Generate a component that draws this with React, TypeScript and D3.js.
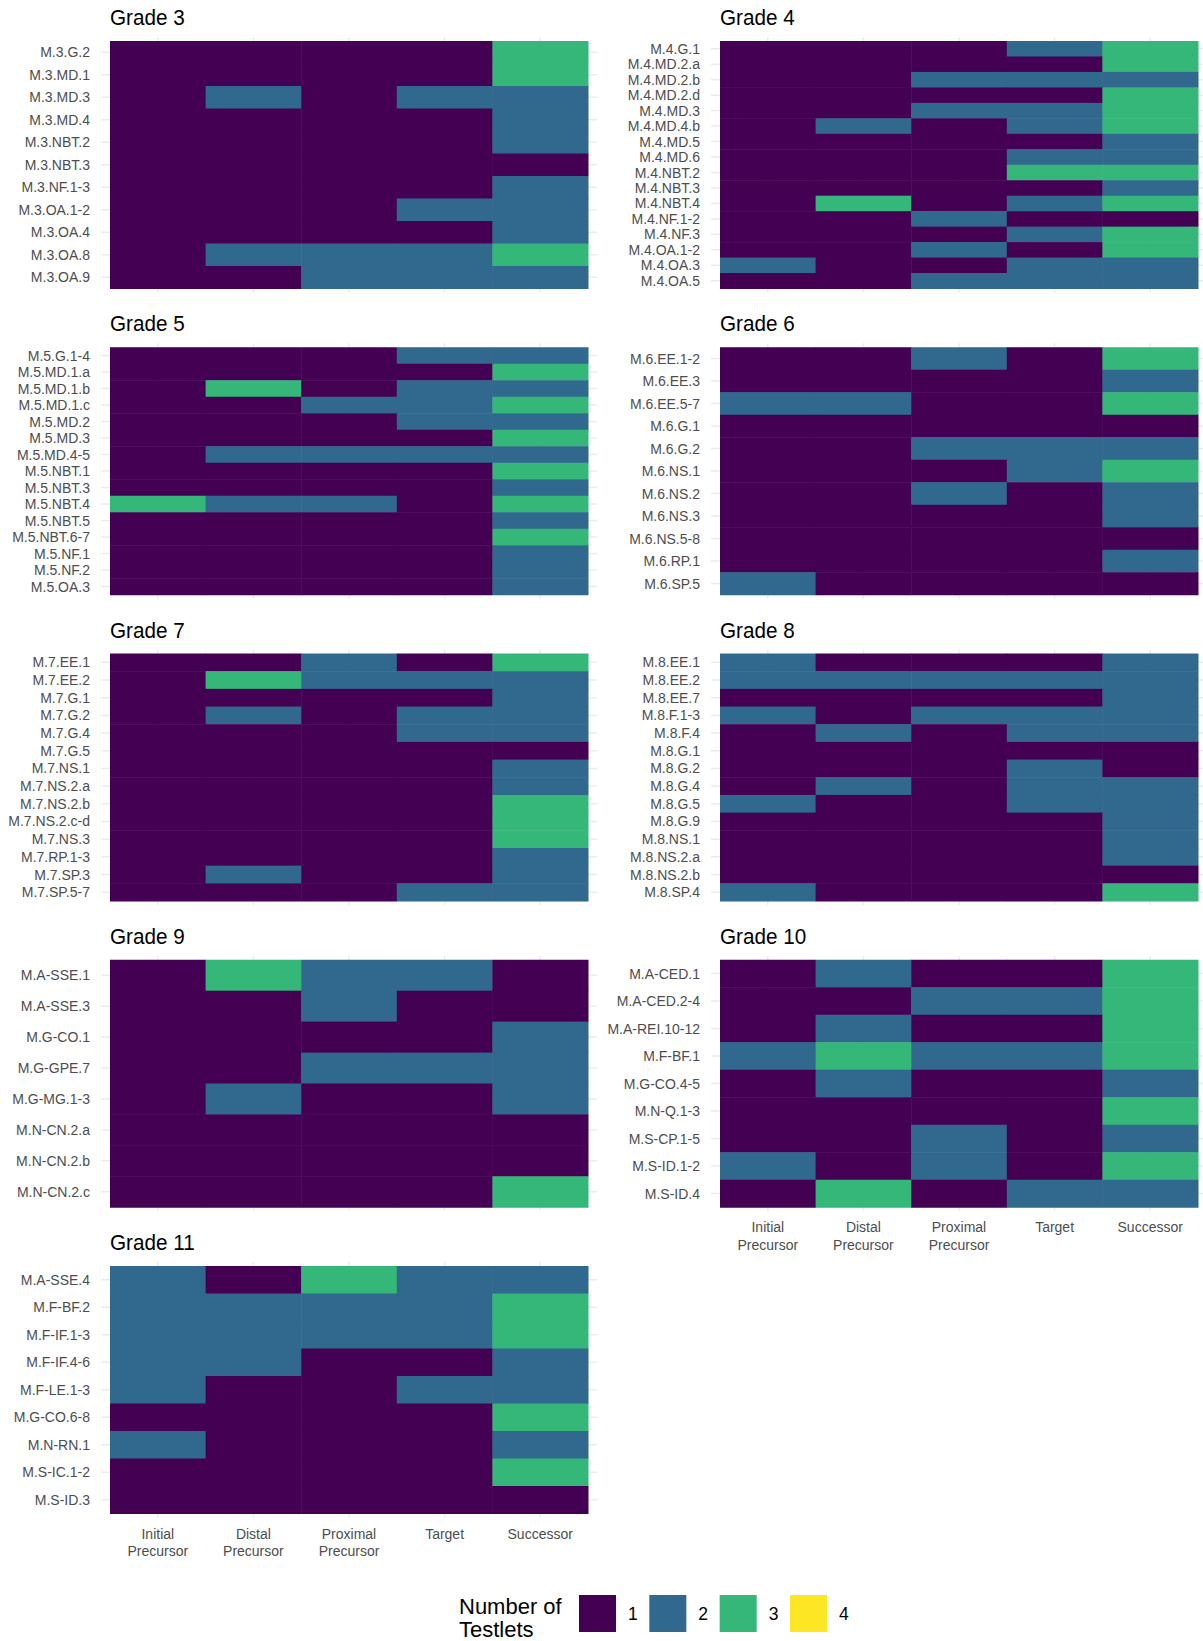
import React from "react";
import * as d3 from "d3";

const columns = ["Initial Precursor", "Distal Precursor", "Proximal Precursor", "Target", "Successor"];
const columnLines = [["Initial", "Precursor"], ["Distal", "Precursor"], ["Proximal", "Precursor"], ["Target"], ["Successor"]];
const legendLevels = [1, 2, 3, 4];
const legendColors = ["#440154", "#31688E", "#35B779", "#FDE725"];

const grade3Labels = ["M.3.G.2", "M.3.MD.1", "M.3.MD.3", "M.3.MD.4", "M.3.NBT.2", "M.3.NBT.3", "M.3.NF.1-3", "M.3.OA.1-2", "M.3.OA.4", "M.3.OA.8", "M.3.OA.9"];
const grade3Values = [
  [1, 1, 1, 1, 3], [1, 1, 1, 1, 3], [1, 2, 1, 2, 2], [1, 1, 1, 1, 2], [1, 1, 1, 1, 2], [1, 1, 1, 1, 1],
  [1, 1, 1, 1, 2], [1, 1, 1, 2, 2], [1, 1, 1, 1, 2], [1, 2, 2, 2, 3], [1, 1, 2, 2, 2],
];

const grade4Labels = ["M.4.G.1", "M.4.MD.2.a", "M.4.MD.2.b", "M.4.MD.2.d", "M.4.MD.3", "M.4.MD.4.b", "M.4.MD.5", "M.4.MD.6", "M.4.NBT.2", "M.4.NBT.3", "M.4.NBT.4", "M.4.NF.1-2", "M.4.NF.3", "M.4.OA.1-2", "M.4.OA.3", "M.4.OA.5"];
const grade4Values = [
  [1, 1, 1, 2, 3], [1, 1, 1, 1, 3], [1, 1, 2, 2, 2], [1, 1, 1, 1, 3], [1, 1, 2, 2, 3], [1, 2, 1, 2, 3],
  [1, 1, 1, 1, 2], [1, 1, 1, 2, 2], [1, 1, 1, 3, 3], [1, 1, 1, 1, 2], [1, 3, 1, 2, 3], [1, 1, 2, 1, 1],
  [1, 1, 1, 2, 3], [1, 1, 2, 1, 3], [2, 1, 1, 2, 2], [1, 1, 2, 2, 2],
];

const grade5Labels = ["M.5.G.1-4", "M.5.MD.1.a", "M.5.MD.1.b", "M.5.MD.1.c", "M.5.MD.2", "M.5.MD.3", "M.5.MD.4-5", "M.5.NBT.1", "M.5.NBT.3", "M.5.NBT.4", "M.5.NBT.5", "M.5.NBT.6-7", "M.5.NF.1", "M.5.NF.2", "M.5.OA.3"];
const grade5Values = [
  [1, 1, 1, 2, 2], [1, 1, 1, 1, 3], [1, 3, 1, 2, 2], [1, 1, 2, 2, 3], [1, 1, 1, 2, 2], [1, 1, 1, 1, 3],
  [1, 2, 2, 2, 2], [1, 1, 1, 1, 3], [1, 1, 1, 1, 2], [3, 2, 2, 1, 3], [1, 1, 1, 1, 2], [1, 1, 1, 1, 3],
  [1, 1, 1, 1, 2], [1, 1, 1, 1, 2], [1, 1, 1, 1, 2],
];

const grade6Labels = ["M.6.EE.1-2", "M.6.EE.3", "M.6.EE.5-7", "M.6.G.1", "M.6.G.2", "M.6.NS.1", "M.6.NS.2", "M.6.NS.3", "M.6.NS.5-8", "M.6.RP.1", "M.6.SP.5"];
const grade6Values = [
  [1, 1, 2, 1, 3], [1, 1, 1, 1, 2], [2, 2, 1, 1, 3], [1, 1, 1, 1, 1], [1, 1, 2, 2, 2], [1, 1, 1, 2, 3],
  [1, 1, 2, 1, 2], [1, 1, 1, 1, 2], [1, 1, 1, 1, 1], [1, 1, 1, 1, 2], [2, 1, 1, 1, 1],
];

const grade7Labels = ["M.7.EE.1", "M.7.EE.2", "M.7.G.1", "M.7.G.2", "M.7.G.4", "M.7.G.5", "M.7.NS.1", "M.7.NS.2.a", "M.7.NS.2.b", "M.7.NS.2.c-d", "M.7.NS.3", "M.7.RP.1-3", "M.7.SP.3", "M.7.SP.5-7"];
const grade7Values = [
  [1, 1, 2, 1, 3], [1, 3, 2, 2, 2], [1, 1, 1, 1, 2], [1, 2, 1, 2, 2], [1, 1, 1, 2, 2], [1, 1, 1, 1, 1],
  [1, 1, 1, 1, 2], [1, 1, 1, 1, 2], [1, 1, 1, 1, 3], [1, 1, 1, 1, 3], [1, 1, 1, 1, 3], [1, 1, 1, 1, 2],
  [1, 2, 1, 1, 2], [1, 1, 1, 2, 2],
];

const grade8Labels = ["M.8.EE.1", "M.8.EE.2", "M.8.EE.7", "M.8.F.1-3", "M.8.F.4", "M.8.G.1", "M.8.G.2", "M.8.G.4", "M.8.G.5", "M.8.G.9", "M.8.NS.1", "M.8.NS.2.a", "M.8.NS.2.b", "M.8.SP.4"];
const grade8Values = [
  [2, 1, 1, 1, 2], [2, 2, 2, 2, 2], [1, 1, 1, 1, 2], [2, 1, 2, 2, 2], [1, 2, 1, 2, 2], [1, 1, 1, 1, 1],
  [1, 1, 1, 2, 1], [1, 2, 1, 2, 2], [2, 1, 1, 2, 2], [1, 1, 1, 1, 2], [1, 1, 1, 1, 2], [1, 1, 1, 1, 2],
  [1, 1, 1, 1, 1], [2, 1, 1, 1, 3],
];

const grade9Labels = ["M.A-SSE.1", "M.A-SSE.3", "M.G-CO.1", "M.G-GPE.7", "M.G-MG.1-3", "M.N-CN.2.a", "M.N-CN.2.b", "M.N-CN.2.c"];
const grade9Values = [
  [1, 3, 2, 2, 1], [1, 1, 2, 1, 1], [1, 1, 1, 1, 2], [1, 1, 2, 2, 2], [1, 2, 1, 1, 2], [1, 1, 1, 1, 1],
  [1, 1, 1, 1, 1], [1, 1, 1, 1, 3],
];

const grade10Labels = ["M.A-CED.1", "M.A-CED.2-4", "M.A-REI.10-12", "M.F-BF.1", "M.G-CO.4-5", "M.N-Q.1-3", "M.S-CP.1-5", "M.S-ID.1-2", "M.S-ID.4"];
const grade10Values = [
  [1, 2, 1, 1, 3], [1, 1, 2, 2, 3], [1, 2, 1, 1, 3], [2, 3, 2, 2, 3], [1, 2, 1, 1, 2], [1, 1, 1, 1, 3],
  [1, 1, 2, 1, 2], [2, 1, 2, 1, 3], [1, 3, 1, 2, 2],
];

const grade11Labels = ["M.A-SSE.4", "M.F-BF.2", "M.F-IF.1-3", "M.F-IF.4-6", "M.F-LE.1-3", "M.G-CO.6-8", "M.N-RN.1", "M.S-IC.1-2", "M.S-ID.3"];
const grade11Values = [
  [2, 1, 3, 2, 2], [2, 2, 2, 2, 3], [2, 2, 2, 2, 3], [2, 2, 1, 1, 2], [2, 1, 1, 2, 2], [1, 1, 1, 1, 3],
  [2, 1, 1, 1, 2], [1, 1, 1, 1, 3], [1, 1, 1, 1, 1],
];

const panels = [
  { title: "Grade 3", labels: grade3Labels, values: grade3Values, xAxis: false },
  { title: "Grade 4", labels: grade4Labels, values: grade4Values, xAxis: false },
  { title: "Grade 5", labels: grade5Labels, values: grade5Values, xAxis: false },
  { title: "Grade 6", labels: grade6Labels, values: grade6Values, xAxis: false },
  { title: "Grade 7", labels: grade7Labels, values: grade7Values, xAxis: false },
  { title: "Grade 8", labels: grade8Labels, values: grade8Values, xAxis: false },
  { title: "Grade 9", labels: grade9Labels, values: grade9Values, xAxis: false },
  { title: "Grade 10", labels: grade10Labels, values: grade10Values, xAxis: true },
  { title: "Grade 11", labels: grade11Labels, values: grade11Values, xAxis: true },
];

const FONT = "'Liberation Sans', Arial, Helvetica, sans-serif";
const W = 1203;
const H = 1641;
const colLeft = [110, 720];
const tileW = 478;
const rowTop0 = 41;
const rowPitch = 306.25;
const tileH = 247.5;

const color = d3.scaleOrdinal<number, string>().domain(legendLevels).range(legendColors);

function Panel({ p, idx }: { p: typeof panels[number]; idx: number }) {
  const left = colLeft[idx % 2];
  const top = rowTop0 + Math.floor(idx / 2) * rowPitch;
  const x = d3.scaleBand<string>().domain(columns).range([left, left + tileW]).padding(0);
  const y = d3.scaleBand<string>().domain(p.labels).range([top, top + tileH]).padding(0);
  const bottom = top + tileH;
  return (
    <g>
      <text transform={`translate(${left},${top - 16}) scale(0.94,1)`} fontSize={22} fill="#000" fontFamily={FONT}>{p.title}</text>
      {p.labels.map((l) => (
        <line key={"h" + l} x1={left - 9} x2={left + tileW + 9} y1={y(l)! + y.bandwidth() / 2} y2={y(l)! + y.bandwidth() / 2} stroke="#EBEBEB" strokeWidth={1.5} />
      ))}
      {columns.map((c) => (
        <line key={"v" + c} x1={x(c)! + x.bandwidth() / 2} x2={x(c)! + x.bandwidth() / 2} y1={top - 4} y2={bottom + 4} stroke="#EBEBEB" strokeWidth={1.5} />
      ))}
      {p.values.map((row, ri) =>
        row.map((v, ci) => (
          <rect key={ri + "-" + ci} x={x(columns[ci])!} y={y(p.labels[ri])!} width={x.bandwidth() + 0.5} height={y.bandwidth() + 0.5} fill={color(v)} />
        ))
      )}
      {p.labels.map((l) => (
        <text key={"t" + l} x={left - 20} y={y(l)! + y.bandwidth() / 2} dy="0.36em" textAnchor="end" fontSize={14} fill="#4D4D4D" fontFamily={FONT}>{l}</text>
      ))}
      {p.xAxis &&
        columns.map((c, ci) => (
          <text key={"x" + c} x={x(c)! + x.bandwidth() / 2} textAnchor="middle" fontSize={14} fill="#4D4D4D" fontFamily={FONT}>
            {columnLines[ci].map((ln, li) => (
              <tspan key={li} x={x(c)! + x.bandwidth() / 2} y={bottom + 25 + li * 17.5}>{ln}</tspan>
            ))}
          </text>
        ))}
    </g>
  );
}

export default function App() {
  const legendX = d3.scaleLinear().domain([1, 4]).range([579, 790]);
  return (
    <svg width={W} height={H} style={{ position: "absolute", left: 0, top: 0, background: "#fff" }} xmlns="http://www.w3.org/2000/svg">
      <rect x={0} y={0} width={W} height={H} fill="#fff" />
      {panels.map((p, i) => (
        <Panel key={p.title} p={p} idx={i} />
      ))}
      <g fontFamily={FONT}>
        <text x={459} y={1614} fontSize={22} fill="#000">Number of</text>
        <text x={459} y={1637} fontSize={22} fill="#000">Testlets</text>
        {legendLevels.map((lv) => (
          <g key={lv}>
            <rect x={legendX(lv)} y={1595} width={37} height={37} fill={color(lv)} />
            <text x={legendX(lv) + 49} y={1620} fontSize={17.5} fill="#000">{lv}</text>
          </g>
        ))}
      </g>
    </svg>
  );
}
